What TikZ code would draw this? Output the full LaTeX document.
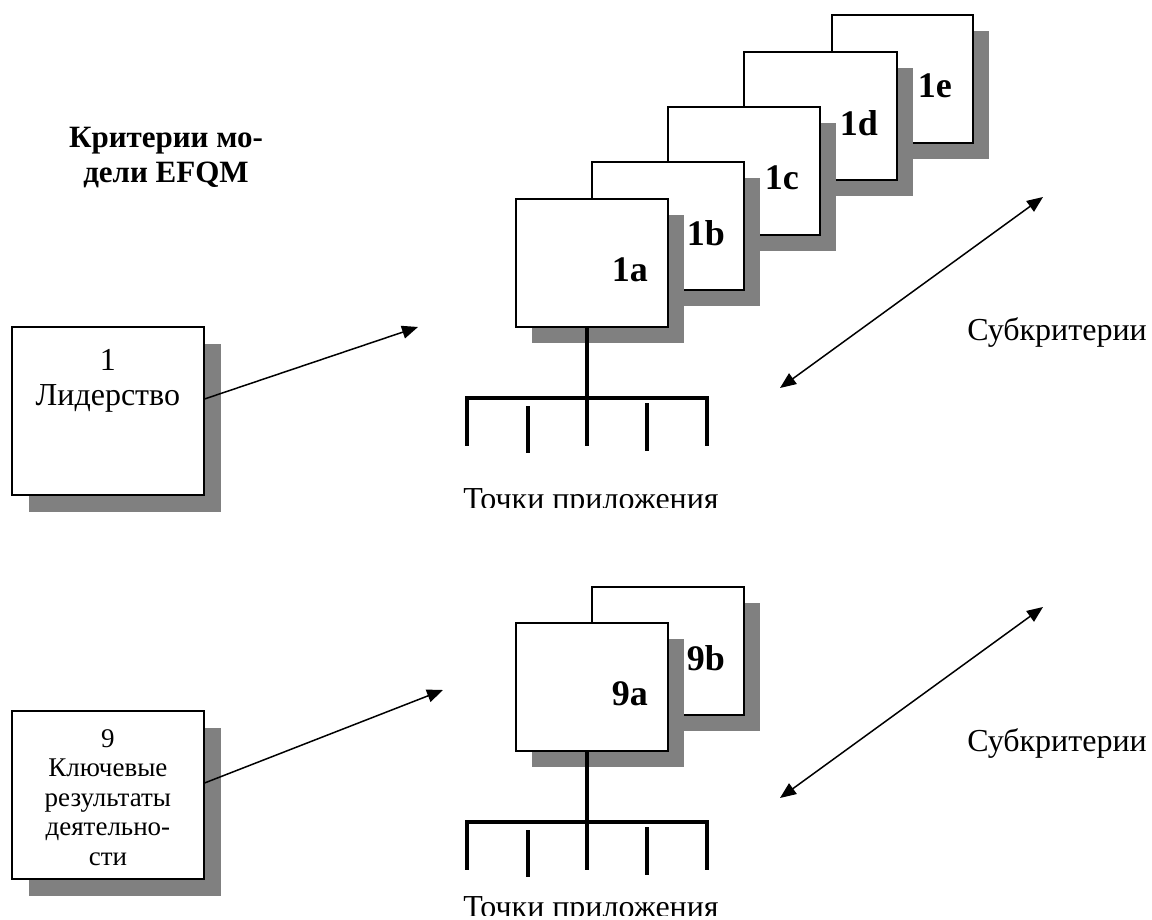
\documentclass[tikz,border=0pt]{standalone}
\usepackage{fontspec}
\setmainfont{Liberation Serif}
\usetikzlibrary{arrows.meta}
\usetikzlibrary{positioning}
\usetikzlibrary{calc}
\usetikzlibrary{shadows}

\begin{document}
\begin{tikzpicture}[x=1pt,y=-1pt]
	\tikzset{crit/.style = {shape=rectangle,draw,line width=1.8pt,fill=white,inner sep=0pt,minimum width=192pt,minimum height=168pt,anchor=north west,drop shadow={opacity=1,fill=black!50,shadow xshift=17pt,shadow yshift=-17pt}}}
	\tikzset{sub/.style = {shape=rectangle,draw,line width=1.8pt,fill=white,inner sep=0pt,minimum width=152pt,minimum height=128pt,anchor=north west,drop shadow={opacity=1,fill=black!50,shadow xshift=16pt,shadow yshift=-16pt}}}
	\tikzset{sublabel/.style = {font=\fontsize{36}{40}\selectfont\bfseries}}
	\tikzset{plain/.style = {font=\fontsize{32}{35}\selectfont}}
	\tikzset{edge/.style = {-{Triangle[length=16pt,width=13pt]},line width=1.5pt}}
	\tikzset{dedge/.style = {{Triangle[length=16pt,width=13pt]}-{Triangle[length=16pt,width=13pt]},line width=1.5pt}}
	\tikzset{tree/.style = {line width=4.5pt}}
	\useasboundingbox (0,0) rectangle (1152,920);
	
	% title
	\node[font=\fontsize{31}{35}\selectfont\bfseries,align=center] (title) at (166,158) {Критерии мо-\\дели EFQM};
	
	% criterion 1
	\node[crit] (b1) at (11,326) {};
	\node[plain,align=center,anchor=north,inner sep=0pt] (t1) at ($(b1.north)+(0,23)$) {1\\Лидерство};
	
	\foreach \n/\x/\y/\w in {1e/831/14/141,1d/743/51/153,1c/667/106/152,1b/591/161/152,1a/515/198/152}{
		\node[sub,minimum width=\w pt] (b\n) at (\x,\y) {};
		\node[sublabel] (l\n) at ($(b\n.north east)+(-39,72)$) {\n};
	}
	
	\coordinate (r1) at (587,398);
	\draw[tree] (b1a.south -| r1) -- (r1);
	\draw[tree,line cap=rect] ($(r1)+(-120,0)$) -- ($(r1)+(120,0)$);
	\foreach \dx/\ya/\yb in {-120/0/48,-59/8/55,0/0/48,60/5/53,120/0/48}
		\draw[tree] ($(r1)+(\dx,\ya)$) -- ($(r1)+(\dx,\yb)$);
	
	\begin{scope}
		\clip (440,470) rectangle (760,507);
		\node[plain,anchor=base] (p1) at (591,509) {Точки приложения};
	\end{scope}
	
	\coordinate (a1) at (418,327);
	\coordinate (s1a) at (780,388);
	\coordinate (s1b) at (1043,197);
	\node[plain] (s1) at (1057,333) {Субкритерии};
	
	% criterion 9
	\node[crit] (b9) at (11,710) {};
	\node[font=\fontsize{27}{29.5}\selectfont,align=center,anchor=north,inner sep=0pt] (t9) at ($(b9.north)+(0,19)$) {9\\Ключевые\\результаты\\деятельно-\\сти};
	
	\foreach \n/\x/\y in {9b/591/586,9a/515/622}{
		\node[sub] (b\n) at (\x,\y) {};
		\node[sublabel] (l\n) at ($(b\n.north east)+(-39,72)$) {\n};
	}
	
	\coordinate (r9) at (587,822);
	\draw[tree] (b9a.south -| r9) -- (r9);
	\draw[tree,line cap=rect] ($(r9)+(-120,0)$) -- ($(r9)+(120,0)$);
	\foreach \dx/\ya/\yb in {-120/0/48,-59/8/55,0/0/48,60/5/53,120/0/48}
		\draw[tree] ($(r9)+(\dx,\ya)$) -- ($(r9)+(\dx,\yb)$);
	
	\begin{scope}
		\clip (440,870) rectangle (760,915);
		\node[plain,anchor=base] (p9) at (591,917) {Точки приложения};
	\end{scope}
	
	\coordinate (a9) at (443,690);
	\coordinate (s9a) at (780,798);
	\coordinate (s9b) at (1043,607);
	\node[plain] (s9) at (1057,743) {Субкритерии};
	
	%edges
	\draw[edge] ([yshift=12pt]b1.east) -- (a1);
	\draw[edge] ([yshift=12pt]b9.east) -- (a9);
	\draw[dedge] (s1a) -- (s1b);
	\draw[dedge] (s9a) -- (s9b);
\end{tikzpicture}
\end{document}
